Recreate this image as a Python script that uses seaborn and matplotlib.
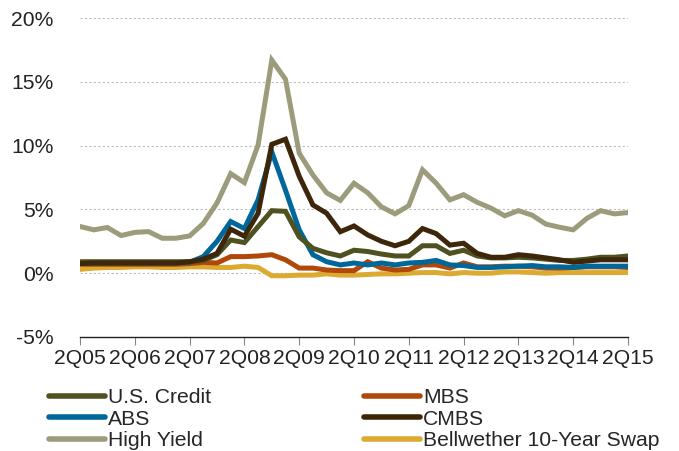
import numpy as np
import pandas as pd
import matplotlib
matplotlib.use("Agg")
import matplotlib.pyplot as plt
import seaborn as sns

sns.set_style("white")
plt.rcParams['font.family'] = ['Liberation Sans', 'DejaVu Sans']

# Quarterly values, 2Q05 .. 2Q15 (41 quarters), in percent
quarters = list(range(41))
year_ticks = [0, 4, 8, 12, 16, 20, 24, 28, 32, 36, 40]
year_labels = ['2Q05', '2Q06', '2Q07', '2Q08', '2Q09', '2Q10',
               '2Q11', '2Q12', '2Q13', '2Q14', '2Q15']

us_credit = [0.9, 0.9, 0.9, 0.9, 0.9, 0.9, 0.9, 0.9, 0.9, 1.0, 1.45,
             2.6, 2.4, 3.65, 4.9, 4.85, 2.85, 1.95, 1.6, 1.35, 1.8,
             1.7, 1.5, 1.35, 1.35, 2.15, 2.15, 1.55, 1.8, 1.35, 1.2,
             1.2, 1.25, 1.2, 1.1, 1.0, 1.0, 1.1, 1.25, 1.25, 1.35]
mbs = [0.7, 0.7, 0.7, 0.7, 0.7, 0.7, 0.7, 0.7, 0.75, 0.85, 0.8,
       1.3, 1.3, 1.35, 1.45, 1.05, 0.4, 0.4, 0.25, 0.2, 0.2,
       0.9, 0.4, 0.25, 0.3, 0.65, 0.65, 0.4, 0.8, 0.5, 0.5,
       0.55, 0.55, 0.5, 0.4, 0.4, 0.45, 0.5, 0.5, 0.5, 0.45]
abs_ = [0.8, 0.8, 0.8, 0.8, 0.8, 0.8, 0.8, 0.8, 0.85, 1.3, 2.5,
        4.05, 3.5, 5.75, 9.5, 6.5, 3.4, 1.45, 0.9, 0.65, 0.8,
        0.65, 0.8, 0.65, 0.8, 0.85, 1.0, 0.65, 0.6, 0.45, 0.45,
        0.5, 0.55, 0.6, 0.5, 0.5, 0.45, 0.55, 0.55, 0.55, 0.55]
cmbs = [0.75, 0.8, 0.8, 0.8, 0.8, 0.8, 0.8, 0.8, 0.9, 1.1, 1.55,
        3.45, 2.9, 4.7, 10.1, 10.5, 7.6, 5.35, 4.7, 3.25, 3.7,
        3.0, 2.5, 2.15, 2.5, 3.5, 3.1, 2.2, 2.35, 1.55, 1.25,
        1.25, 1.45, 1.35, 1.2, 1.05, 0.85, 0.95, 1.05, 1.05, 1.05]
high_yield = [3.66, 3.4, 3.58, 2.95, 3.2, 3.26, 2.74, 2.74, 2.92, 3.9, 5.5,
              7.8, 7.1, 10.05, 16.7, 15.2, 9.4, 7.7, 6.3, 5.7, 7.05,
              6.3, 5.2, 4.65, 5.3, 8.1, 7.05, 5.75, 6.15, 5.55, 5.1,
              4.5, 4.9, 4.55, 3.85, 3.6, 3.4, 4.3, 4.9, 4.65, 4.75]
swap = [0.3, 0.4, 0.45, 0.45, 0.5, 0.5, 0.45, 0.45, 0.5, 0.5, 0.45,
        0.45, 0.55, 0.45, -0.2, -0.2, -0.15, -0.15, -0.05, -0.15, -0.15,
        -0.1, -0.05, -0.05, 0.0, 0.05, 0.05, -0.05, 0.05, 0.0, 0.0,
        0.1, 0.1, 0.05, 0.0, 0.05, 0.05, 0.05, 0.05, 0.05, 0.05]

series_names = ['U.S. Credit', 'MBS', 'ABS', 'CMBS', 'High Yield',
                'Bellwether 10-Year Swap']
series_values = [us_credit, mbs, abs_, cmbs, high_yield, swap]
colors = ['#4f5120', '#b0480a', '#00679a', '#3d2609', '#9c9c7c', '#dcaa30']

# Draw order (back to front) as in the reference
draw_order = ['Bellwether 10-Year Swap', 'MBS', 'ABS', 'U.S. Credit',
              'CMBS', 'High Yield']

frames = []
for name, vals in zip(series_names, series_values):
    frames.append(pd.DataFrame({'quarter': quarters, 'value': vals, 'series': name}))
df = pd.concat(frames, ignore_index=True)

fig = plt.figure(figsize=(6.79, 4.51), dpi=100)
ax = fig.add_axes([80 / 679, 1 - 337 / 451, 548 / 679, 319 / 451])

palette = dict(zip(series_names, colors))
for name in draw_order:
    sns.lineplot(data=df[df['series'] == name], x='quarter', y='value',
                 color=palette[name], linewidth=3.6, ax=ax, legend=False,
                 solid_joinstyle='miter', zorder=3)

ax.set_xlim(0, 40)
ax.set_ylim(-5, 20)
ax.set_yticks([-5, 0, 5, 10, 15, 20])
ax.set_yticklabels(['-5%', '0%', '5%', '10%', '15%', '20%'])
ax.set_xticks(year_ticks)
ax.set_xticklabels(year_labels)
ax.set_xlabel('')
ax.set_ylabel('')

for v in [0, 5, 10, 15, 20]:
    ax.axhline(v, color='#bbbbbb', linewidth=0.8, linestyle=(0, (2, 2)), zorder=1)

for side in ['top', 'right', 'left']:
    ax.spines[side].set_visible(False)
ax.spines['bottom'].set_color('#222222')
ax.spines['bottom'].set_linewidth(1.0)

fs = 15.2
ax.tick_params(axis='y', length=0, pad=19, labelsize=fs, labelcolor='#222222')
ax.tick_params(axis='x', direction='out', length=6, width=0.8, color='#888888',
               pad=3, labelsize=fs, labelcolor='#222222', bottom=True)

# Legend: two columns, filled column-wise
legend_order = ['U.S. Credit', 'ABS', 'High Yield', 'MBS', 'CMBS',
                'Bellwether 10-Year Swap']
handles = [plt.Line2D([], [], color=palette[n], linewidth=4,
                      solid_capstyle='round') for n in legend_order]
fig.legend(handles, legend_order, loc='upper left',
           bbox_to_anchor=(49 / 679, 1 - 388 / 451), ncol=2, frameon=False,
           fontsize=fs, handlelength=2.65, handletextpad=0.13,
           labelspacing=0.13, columnspacing=7.27, borderpad=0, borderaxespad=0)

fig.savefig('out.png', dpi=100)
